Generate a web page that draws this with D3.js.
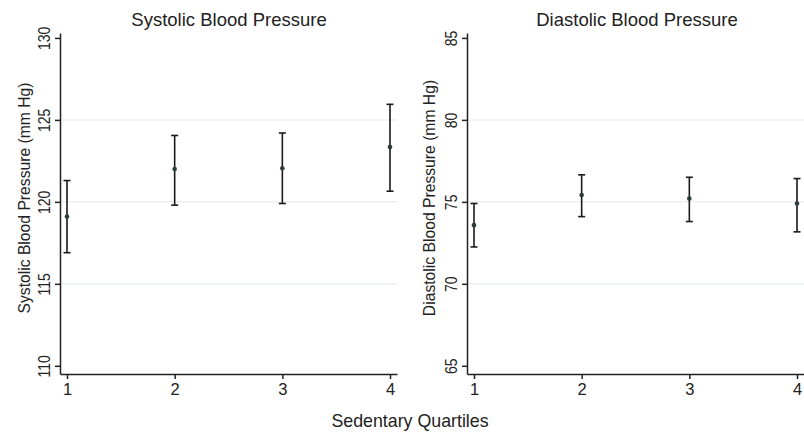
<!DOCTYPE html>
<html>
<head>
<meta charset="utf-8">
<script src="https://cdn.jsdelivr.net/npm/d3@7"></script>
<style>
  body { margin: 0; background: #fff; }
  svg text { font-family: "Liberation Sans", Arial, sans-serif; fill: #222; }
</style>
</head>
<body>
<div id="chart"></div>
<script>
var quartiles = [1, 2, 3, 4];

var sbpMean = [119.1, 122.0, 122.05, 123.35];
var sbpLow = [116.9, 119.8, 119.9, 120.65];
var sbpHigh = [121.3, 124.05, 124.2, 125.95];
var sbpTicks = [110, 115, 120, 125, 130];

var dbpMean = [73.58, 75.42, 75.2, 74.9];
var dbpLow = [72.25, 74.1, 73.8, 73.17];
var dbpHigh = [74.9, 76.65, 76.5, 76.42];
var dbpTicks = [65, 70, 75, 80, 85];

var svg = d3.select("#chart").append("svg")
    .attr("width", 804)
    .attr("height", 436);

function errorPanel(opts) {
    var data = quartiles.map(function(q, i) {
        return {q: q, mean: opts.mean[i], low: opts.low[i], high: opts.high[i]};
    });

    var x = d3.scaleLinear()
        .domain([0.935, 4.065])
        .range([opts.left, opts.left + 337]);

    var y = d3.scaleLinear()
        .domain(opts.domain)
        .range([374, 33]);

    var g = svg.append("g");

    // light grid at inner ticks
    g.selectAll(".grid")
        .data(opts.ticks.slice(1, -1))
        .enter().append("line")
        .attr("x1", x.range()[0])
        .attr("x2", x.range()[1])
        .attr("y1", function(d) { return y(d); })
        .attr("y2", function(d) { return y(d); })
        .style("stroke", "#eceff0")
        .style("stroke-width", 1.5);

    var yAxis = g.append("g")
        .attr("transform", "translate(" + opts.left + ",0)")
        .call(d3.axisLeft(y).tickValues(opts.ticks).tickSize(5).tickSizeOuter(0));
    // vertical, slightly narrow tick labels like the original
    yAxis.selectAll("text")
        .attr("transform", "translate(-16,0) rotate(-90) scale(0.85,1)")
        .attr("x", 0).attr("y", 0).attr("dy", "0.35em")
        .style("text-anchor", "middle")
        .style("font-size", "16.5px");

    var xAxis = g.append("g")
        .attr("transform", "translate(0,374)")
        .call(d3.axisBottom(x).tickValues(quartiles).tickFormat(d3.format("d")).tickSize(5).tickSizeOuter(0));
    xAxis.selectAll("text")
        .attr("y", 9)
        .style("font-size", "16.5px");

    g.selectAll(".domain, .tick line")
        .style("stroke", "#222")
        .style("stroke-width", 1.5);

    // error bars
    var bars = g.selectAll(".bar")
        .data(data)
        .enter().append("g");

    bars.append("line")
        .attr("x1", function(d) { return x(d.q); })
        .attr("x2", function(d) { return x(d.q); })
        .attr("y1", function(d) { return y(d.low); })
        .attr("y2", function(d) { return y(d.high); })
        .style("stroke", "#1a1a1a")
        .style("stroke-width", 1.6);

    ["low", "high"].forEach(function(k) {
        bars.append("line")
            .attr("x1", function(d) { return x(d.q) - 3.5; })
            .attr("x2", function(d) { return x(d.q) + 3.5; })
            .attr("y1", function(d) { return y(d[k]); })
            .attr("y2", function(d) { return y(d[k]); })
            .style("stroke", "#1a1a1a")
            .style("stroke-width", 1.6);
    });

    bars.append("circle")
        .attr("cx", function(d) { return x(d.q); })
        .attr("cy", function(d) { return y(d.mean); })
        .attr("r", 2.3)
        .style("fill", "#2c3b3b");

    svg.append("text")
        .attr("x", opts.titleX)
        .attr("y", 26)
        .attr("text-anchor", "middle")
        .style("font-size", "18.5px")
        .text(opts.title);

    svg.append("text")
        .attr("transform", "translate(" + opts.labelX + ",198) rotate(-90)")
        .attr("text-anchor", "middle")
        .style("font-size", "15.7px")
        .text(opts.ylabel);
}

errorPanel({
    left: 60, domain: [109.5, 130.3], ticks: sbpTicks,
    mean: sbpMean, low: sbpLow, high: sbpHigh,
    title: "Systolic Blood Pressure", titleX: 229,
    ylabel: "Systolic Blood Pressure (mm Hg)", labelX: 30
});

errorPanel({
    left: 467, domain: [64.5, 85.3], ticks: dbpTicks,
    mean: dbpMean, low: dbpLow, high: dbpHigh,
    title: "Diastolic Blood Pressure", titleX: 637,
    ylabel: "Diastolic Blood Pressure (mm Hg)", labelX: 435
});

svg.append("text")
    .attr("x", 410)
    .attr("y", 427)
    .attr("text-anchor", "middle")
    .style("font-size", "17.8px")
    .text("Sedentary Quartiles");
</script>
</body>
</html>
